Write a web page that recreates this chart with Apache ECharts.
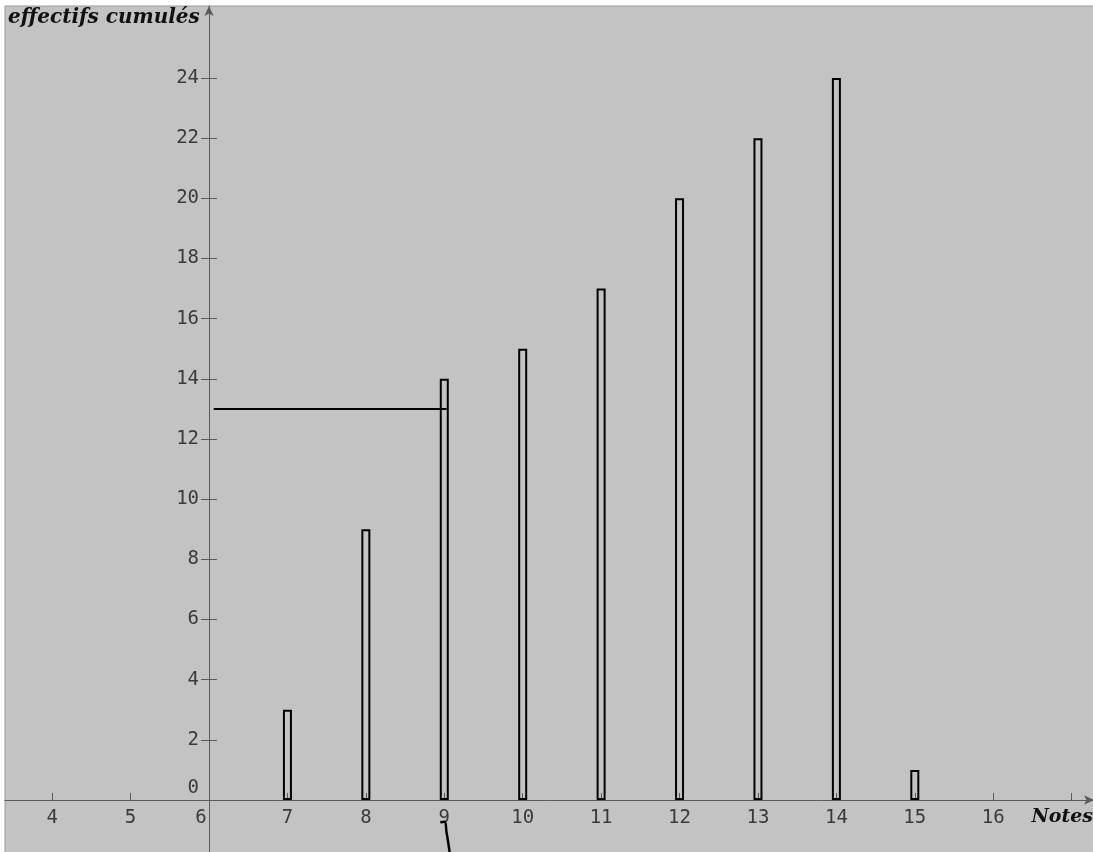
<!DOCTYPE html>
<html>
<head>
<meta charset="utf-8">
<script src="https://cdn.jsdelivr.net/npm/echarts@6/dist/echarts.min.js"></script>
<style>
    html, body { margin: 0; padding: 0; background: #ffffff; }
    #chart { width: 1093px; height: 852px; }
</style>
</head>
<body>
<div id="chart"></div>
<script>
    // notes et effectifs cumulés
    var notes = [7, 8, 9, 10, 11, 12, 13, 14, 15];
    var effectifsCumules = [3, 9, 14, 15, 17, 20, 22, 24, 1];
    var xTicks = [4, 5, 6, 7, 8, 9, 10, 11, 12, 13, 14, 15, 16, 17];
    var xLabels = [4, 5, 6, 7, 8, 9, 10, 11, 12, 13, 14, 15, 16];
    var yLabels = [0, 2, 4, 6, 8, 10, 12, 14, 16, 18, 20, 22, 24];
    // lecture de la médiane (trait horizontal)
    var medianeX = [6.06, 9.03];
    var medianeY = [13, 13];
    // petit trait sous l'axe
    var traitX = [8.95, 9.0, 9.03, 9.07];
    var traitY = [-0.74, -0.72, -1.1, -1.76];

    var xMin = 3.3986, xMax = 17.285;
    var yMin = -1.762, yMax = 26.394;
    var gridW = 1089, gridH = 847;
    // axes qui se croisent en (6 ; 0)
    var yOffset = -(6 - xMin) / (xMax - xMin) * gridW;
    var xOffset = -(0 - yMin) / (yMax - yMin) * gridH;

    var labelFont = {
        fontFamily: 'DejaVu Sans Mono',
        fontSize: 19,
        color: '#3a3a3a'
    };

    var myChart = echarts.init(document.getElementById('chart'));
    var option = {
        animation: false,
        grid: {
            left: 5,
            top: 6,
            right: -1,
            bottom: -1,
            outerBoundsMode: 'none',
            containLabel: false,
            show: true,
            backgroundColor: '#c3c3c3',
            borderColor: '#9a9a9a',
            borderWidth: 1
        },
        xAxis: {
            type: 'value',
            position: 'bottom',
            offset: xOffset,
            min: xMin,
            max: xMax,
            splitLine: { show: false },
            axisLine: {
                onZero: false,
                symbol: ['none', 'arrow'],
                symbolSize: [7, 10],
                lineStyle: { color: '#5a5a5a', width: 1 }
            },
            axisTick: {
                inside: true,
                length: 7,
                customValues: xTicks,
                lineStyle: { color: '#5a5a5a' }
            },
            axisLabel: {
                margin: 9,
                customValues: xLabels,
                fontFamily: labelFont.fontFamily,
                fontSize: labelFont.fontSize,
                color: labelFont.color,
                formatter: function (v) {
                    return v === 6 ? '{o|6}' : '' + v;
                },
                rich: {
                    o: {
                        fontFamily: labelFont.fontFamily,
                        fontSize: labelFont.fontSize,
                        color: labelFont.color,
                        padding: [0, 16, 0, 0]
                    }
                }
            }
        },
        yAxis: [{
            type: 'value',
            position: 'left',
            offset: yOffset,
            min: yMin,
            max: yMax,
            splitLine: { show: false },
            axisLine: {
                onZero: false,
                symbol: ['none', 'arrow'],
                symbolSize: [7, 10],
                lineStyle: { color: '#5a5a5a', width: 1 }
            },
            axisTick: {
                length: 8,
                customValues: yLabels,
                lineStyle: { color: '#5a5a5a' }
            },
            axisLabel: {
                margin: 10,
                customValues: yLabels,
                fontFamily: labelFont.fontFamily,
                fontSize: labelFont.fontSize,
                color: labelFont.color,
                formatter: function (v) {
                    return v === 0 ? '{z|0}' : '' + v;
                },
                rich: {
                    z: {
                        fontFamily: labelFont.fontFamily,
                        fontSize: labelFont.fontSize,
                        color: labelFont.color,
                        padding: [0, 0, 24, 0]
                    }
                }
            }
        }, {
            type: 'value',
            position: 'left',
            offset: yOffset,
            min: yMin,
            max: yMax,
            splitLine: { show: false },
            axisLine: { show: false, onZero: false },
            axisLabel: { show: false },
            axisTick: {
                inside: true,
                length: 8,
                customValues: yLabels,
                lineStyle: { color: '#5a5a5a' }
            }
        }],
        graphic: [{
            type: 'text',
            left: 8,
            top: 8,
            style: {
                text: 'effectifs cumulés',
                font: 'italic bold 20px "DejaVu Serif"',
                fill: '#111'
            }
        }, {
            type: 'text',
            right: 0,
            top: 808,
            style: {
                text: 'Notes',
                font: 'italic bold 19px "DejaVu Serif"',
                fill: '#111'
            }
        }],
        series: [{
            type: 'bar',
            barWidth: 9,
            data: notes.map(function (n, i) { return [n, effectifsCumules[i]]; }),
            itemStyle: {
                color: 'rgba(0,0,0,0)',
                borderColor: '#000',
                borderWidth: 2
            }
        }, {
            type: 'line',
            symbol: 'none',
            data: medianeX.map(function (x, i) { return [x, medianeY[i]]; }),
            lineStyle: { color: '#000', width: 2 },
            z: 3
        }, {
            type: 'line',
            symbol: 'none',
            smooth: true,
            data: traitX.map(function (x, i) { return [x, traitY[i]]; }),
            lineStyle: { color: '#000', width: 2.5 },
            z: 3
        }]
    };
    myChart.setOption(option);
</script>
</body>
</html>
